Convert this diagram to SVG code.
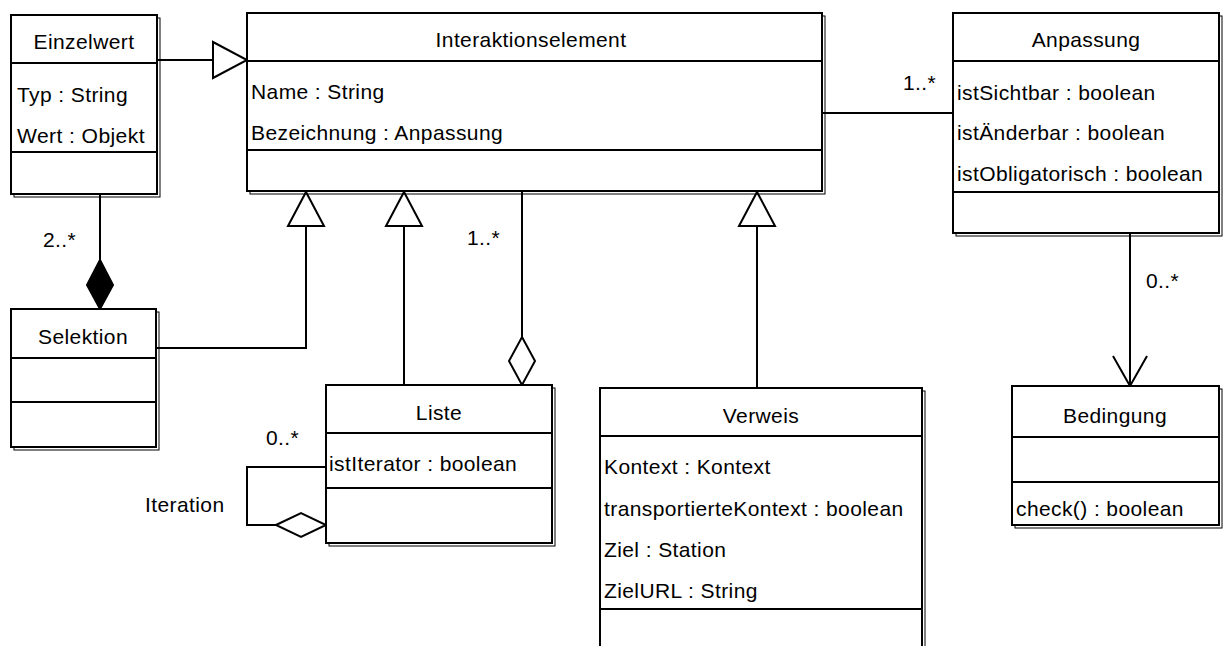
<svg xmlns="http://www.w3.org/2000/svg" width="1226" height="646" viewBox="0 0 1226 646">
  <style>
    text { font-family: "Liberation Sans", Arial, Helvetica, sans-serif; font-size: 21px; letter-spacing: 0.4px; fill: #000; }
    .title { text-anchor: middle; }
    .box { fill: #fff; stroke: #000; stroke-width: 2; }
    .shadow { fill: none; stroke: #000; stroke-width: 1; }
    .div { stroke: #000; stroke-width: 2; }
    .edge { fill: none; stroke: #000; stroke-width: 2; }
    .hollow { fill: #fff; stroke: #000; stroke-width: 2; stroke-linejoin: miter; }
    .solid { fill: #000; stroke: #000; stroke-width: 2; }
  </style>

  <!-- connectors -->
  <g id="connectors">
    <!-- Einzelwert generalizes Interaktionselement -->
    <line class="edge" x1="157" y1="60" x2="213" y2="60"/>
    <polygon class="hollow" points="213,42 247,60 213,78"/>

    <!-- Selektion generalizes Interaktionselement -->
    <polyline class="edge" points="156,348 306,348 306,226"/>
    <polygon class="hollow" points="288,226 306,192 324,226"/>

    <!-- Liste generalizes Interaktionselement -->
    <line class="edge" x1="404" y1="385" x2="404" y2="226"/>
    <polygon class="hollow" points="386,226 404,192 422,226"/>

    <!-- Verweis generalizes Interaktionselement -->
    <line class="edge" x1="757" y1="388" x2="757" y2="226"/>
    <polygon class="hollow" points="739,226 757,192 775,226"/>

    <!-- Liste aggregates Interaktionselement -->
    <line class="edge" x1="522" y1="191" x2="522" y2="337"/>
    <polygon class="hollow" points="522,337 535,361 522,385 509,361"/>
    <text x="467" y="245">1..*</text>

    <!-- Selektion composed of Einzelwert -->
    <line class="edge" x1="100" y1="194" x2="100" y2="260"/>
    <polygon class="solid" points="100,260 113,285 100,309 87,285"/>
    <text x="43" y="247">2..*</text>

    <!-- Iteration: Liste aggregates Liste -->
    <polyline class="edge" points="326,467 247,467 247,525 276,525"/>
    <polygon class="hollow" points="276,525 301,513 326,525 301,537"/>
    <text x="266" y="445">0..*</text>
    <text x="145" y="512">Iteration</text>

    <!-- Interaktionselement to Anpassung -->
    <line class="edge" x1="822" y1="113" x2="953" y2="113"/>
    <text x="903" y="90">1..*</text>

    <!-- Anpassung navigates to Bedingung -->
    <line class="edge" x1="1130" y1="233" x2="1130" y2="386"/>
    <polyline class="edge" points="1113,356 1130,386 1147,356"/>
    <text x="1146" y="288">0..*</text>
  </g>

  <!-- Einzelwert -->
  <g id="einzelwert">
    <rect class="shadow" x="14" y="18" width="146" height="179"/>
    <rect class="box" x="11" y="15" width="146" height="179"/>
    <line class="div" x1="11" y1="63" x2="157" y2="63"/>
    <line class="div" x1="11" y1="152" x2="157" y2="152"/>
    <text class="title" x="84" y="49">Einzelwert</text>
    <text x="17" y="102">Typ : String</text>
    <text x="17" y="143" textLength="128" lengthAdjust="spacingAndGlyphs">Wert : Objekt</text>
  </g>

  <!-- Interaktionselement -->
  <g id="interaktionselement">
    <rect class="shadow" x="250" y="16" width="575" height="178"/>
    <rect class="box" x="247" y="13" width="575" height="178"/>
    <line class="div" x1="247" y1="61" x2="822" y2="61"/>
    <line class="div" x1="247" y1="150" x2="822" y2="150"/>
    <text class="title" x="531" y="47">Interaktionselement</text>
    <text x="251" y="99">Name : String</text>
    <text x="251" y="140">Bezeichnung : Anpassung</text>
  </g>

  <!-- Anpassung -->
  <g id="anpassung">
    <rect class="shadow" x="956" y="16" width="266" height="220"/>
    <rect class="box" x="953" y="13" width="266" height="220"/>
    <line class="div" x1="953" y1="61" x2="1219" y2="61"/>
    <line class="div" x1="953" y1="192" x2="1219" y2="192"/>
    <text class="title" x="1086" y="47">Anpassung</text>
    <text x="957" y="100">istSichtbar : boolean</text>
    <text x="957" y="140">istÄnderbar : boolean</text>
    <text x="957" y="181">istObligatorisch : boolean</text>
  </g>

  <!-- Selektion -->
  <g id="selektion">
    <rect class="shadow" x="14" y="312" width="145" height="138"/>
    <rect class="box" x="11" y="309" width="145" height="138"/>
    <line class="div" x1="11" y1="358" x2="156" y2="358"/>
    <line class="div" x1="11" y1="402" x2="156" y2="402"/>
    <text class="title" x="83" y="344">Selektion</text>
  </g>

  <!-- Liste -->
  <g id="liste">
    <rect class="shadow" x="329" y="388" width="226" height="158"/>
    <rect class="box" x="326" y="385" width="226" height="158"/>
    <line class="div" x1="326" y1="433" x2="552" y2="433"/>
    <line class="div" x1="326" y1="488" x2="552" y2="488"/>
    <text class="title" x="439" y="420">Liste</text>
    <text x="329" y="471">istIterator : boolean</text>
  </g>

  <!-- Verweis -->
  <g id="verweis">
    <rect class="shadow" x="603" y="391" width="322" height="280"/>
    <rect class="box" x="600" y="388" width="322" height="280"/>
    <line class="div" x1="600" y1="436" x2="922" y2="436"/>
    <line class="div" x1="600" y1="609" x2="922" y2="609"/>
    <text class="title" x="761" y="423">Verweis</text>
    <text x="604" y="474">Kontext : Kontext</text>
    <text x="604" y="516">transportierteKontext : boolean</text>
    <text x="604" y="557">Ziel : Station</text>
    <text x="604" y="598">ZielURL : String</text>
  </g>

  <!-- Bedingung -->
  <g id="bedingung">
    <rect class="shadow" x="1015" y="389" width="207" height="139"/>
    <rect class="box" x="1012" y="386" width="207" height="139"/>
    <line class="div" x1="1012" y1="437" x2="1219" y2="437"/>
    <line class="div" x1="1012" y1="482" x2="1219" y2="482"/>
    <text class="title" x="1115" y="423">Bedingung</text>
    <text x="1016" y="516">check() : boolean</text>
  </g>
</svg>
